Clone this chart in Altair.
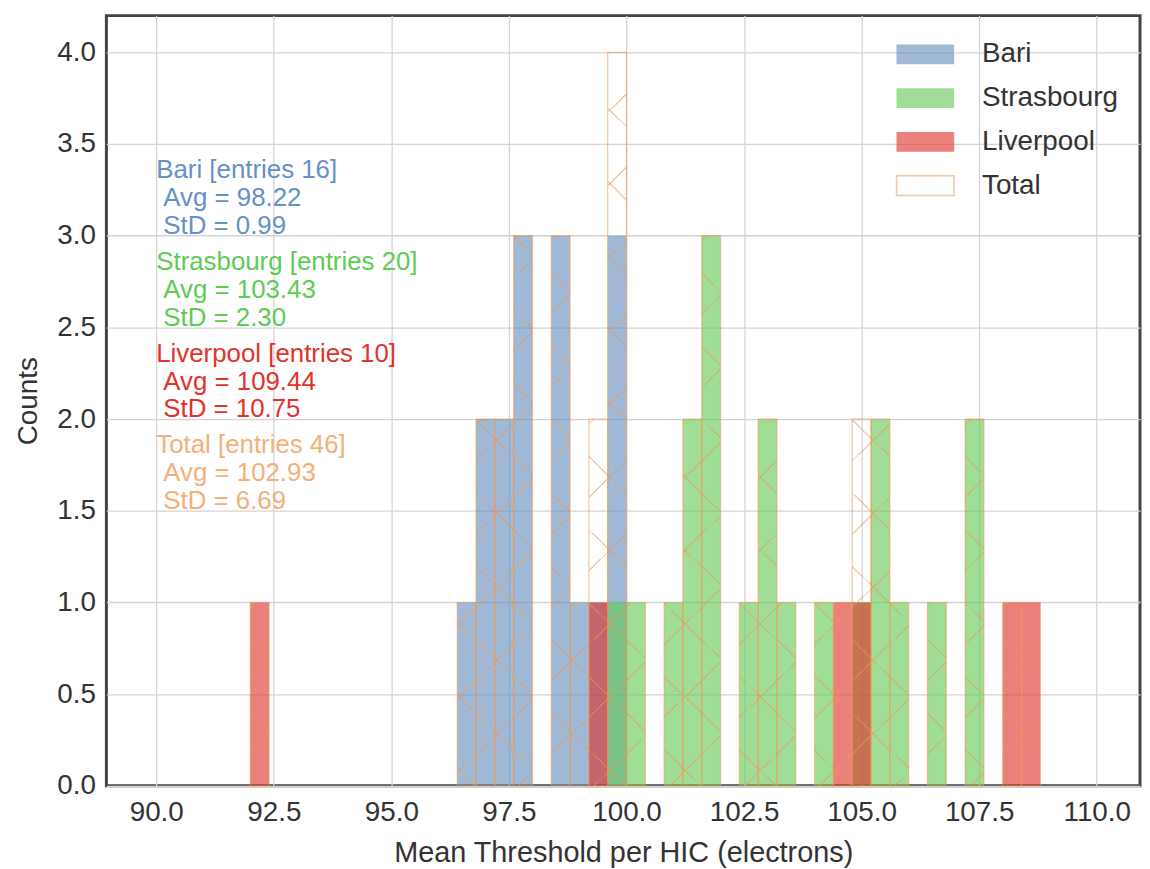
import math
import altair as alt
import pandas as pd

# ---------------- data ----------------
BIN_WIDTH = 0.4
SERIES = ["Bari", "Strasbourg", "Liverpool"]
ALL_NAMES = ["Bari", "Strasbourg", "Liverpool", "Total"]

BARI_BINS = [96.4, 96.8, 97.2, 97.6, 98.4, 98.8, 99.2, 99.6]
BARI_COUNTS = [1, 2, 2, 3, 3, 1, 1, 3]
STRAS_BINS = [99.6, 100.0, 100.8, 101.2, 101.6, 102.4, 102.8, 103.2,
              104.0, 104.8, 105.2, 105.6, 106.4, 107.2]
STRAS_COUNTS = [1, 1, 1, 2, 3, 1, 2, 1, 1, 1, 2, 1, 1, 2]
LIV_BINS = [92.0, 99.2, 104.4, 104.8, 108.0, 108.4]
LIV_COUNTS = [1, 1, 1, 1, 1, 1]

ENTRIES = [16, 20, 10, 46]
AVERAGES = [98.22, 103.43, 109.44, 102.93]
STDEVS = [0.99, 2.30, 10.75, 6.69]

X_TICKS = [90.0, 92.5, 95.0, 97.5, 100.0, 102.5, 105.0, 107.5, 110.0]
Y_TICKS = [0.0, 0.5, 1.0, 1.5, 2.0, 2.5, 3.0, 3.5, 4.0]

# ---------------- styling ----------------
FONT = "Liberation Sans"
FILL_RANGE = ["rgba(97,138,188,0.6)", "rgba(97,200,83,0.6)",
              "rgba(223,43,38,0.6)", "rgba(255,255,255,0)"]
STROKE_RANGE = ["rgba(0,0,0,0)", "rgba(0,0,0,0)", "rgba(0,0,0,0)",
                "rgba(240,150,80,0.55)"]
TEXT_COLORS = ["#6690c6", "#5ecb55", "#e2322c", "#f2b07a"]
HATCH = "rgba(236,150,80,0.5)"
CLEAR = "rgba(255,255,255,0)"

X_DOMAIN = [88.94, 110.92]
Y_DOMAIN = [0.0, 4.2]
PLOT_W, PLOT_H = 1040, 775

# ---------------- tables ----------------
rows = []
for name, bins, counts in zip(SERIES, [BARI_BINS, STRAS_BINS, LIV_BINS],
                              [BARI_COUNTS, STRAS_COUNTS, LIV_COUNTS]):
    for lo, n in zip(bins, counts):
        rows.append(dict(series=name, lo=lo, hi=round(lo + BIN_WIDTH, 3), n=n, zero=0))
bars = pd.DataFrame(rows)

tot = bars.groupby("lo", as_index=False)["n"].sum()
tot["hi"] = (tot["lo"] + BIN_WIDTH).round(3)
tot["zero"] = 0
tot["series"] = "Total"


def px(v):
    return (v - X_DOMAIN[0]) / (X_DOMAIN[1] - X_DOMAIN[0]) * PLOT_W


def py(c):
    return PLOT_H - c / Y_DOMAIN[1] * PLOT_H


CELL_W = px(92.0 + BIN_WIDTH) - px(92.0)
CELL_H = py(0) - py(1)
PERIOD = 0.4            # hatch period in units of one count (vertical)
N_H = 4                 # hatch repeats every N_H bins horizontally
SLOPE = PERIOD * CELL_H / (N_H * CELL_W)
A = SLOPE * CELL_W / CELL_H
LINE_W = 1.3
ANCHOR = (393.0, 648.7)  # a crossing point of the hatch (plot px)

cells = []
for _, r in tot.iterrows():
    for j in range(int(r["n"])):
        d = dict(lo=r["lo"], hi=r["hi"], y0=j, y1=j + 1)
        for s, key in ((1, "pa"), (-1, "pb")):
            m = s * SLOPE
            C = ANCHOR[1] - m * ANCHOR[0]
            ph = ((C - py(j + 1) + m * px(r["lo"])) / CELL_H) % PERIOD
            ph = round(ph, 4)
            if abs(ph - PERIOD) < 1e-3:
                ph = 0.0
            d[key] = ph
        cells.append(d)
cells = pd.DataFrame(cells)


def hatch_fill(a, phase, hw):
    fmin = -max(a, 0.0)
    R = 1.0 + abs(a)
    p1 = (1.0, 0.0) if a > 0 else (0.0, 0.0)
    lam = R / (1.0 + a * a)
    p2 = (p1[0] - lam * a, p1[1] + lam)
    stops = [alt.GradientStop(color=CLEAR, offset=0)]
    i = math.floor((fmin - hw - phase) / PERIOD) - 1
    last = 0.0
    while True:
        c = phase + i * PERIOD
        i += 1
        if c - hw > fmin + R:
            break
        lo = (c - hw - fmin) / R
        hi = (c + hw - fmin) / R
        if hi <= 0:
            continue
        lo = max(lo, 0.0, last)
        hi = min(hi, 1.0)
        if hi <= lo:
            continue
        for off, col in ((lo, CLEAR), (lo, HATCH), (hi, HATCH), (hi, CLEAR)):
            stops.append(alt.GradientStop(color=col, offset=round(off, 5)))
        last = hi
    stops.append(alt.GradientStop(color=CLEAR, offset=1))
    return alt.LinearGradient(gradient="linear", stops=stops,
                              x1=round(p1[0], 5), y1=round(p1[1], 5),
                              x2=round(p2[0], 5), y2=round(p2[1], 5))


# ---------------- encodings ----------------
xs = alt.Scale(domain=X_DOMAIN, nice=False, zero=False)
ys = alt.Scale(domain=Y_DOMAIN, nice=False, zero=False)
xaxis = alt.Axis(values=X_TICKS, format=".1f", title="Mean Threshold per HIC (electrons)",
                 grid=True, ticks=False, domain=False, labelFlush=False, labelOverlap=False)
yaxis = alt.Axis(values=Y_TICKS, format=".1f", title="Counts",
                 grid=True, ticks=False, domain=False, labelOverlap=False)


def X(f):
    return alt.X(f, type="quantitative", scale=xs, axis=xaxis)


def Y(f):
    return alt.Y(f, type="quantitative", scale=ys, axis=yaxis)


legend = alt.Legend(orient="none", legendX=810, legendY=25, title=None,
                    symbolType="M-2.9,-1H2.9V1H-2.9Z", symbolSize=400,
                    symbolStrokeWidth=1.5, labelFontSize=28, labelFont=FONT,
                    labelColor="#333333", labelOffset=43, rowPadding=16, padding=0)

series_layer = alt.Chart(bars).mark_rect(strokeWidth=0).encode(
    x=X("lo"), x2="hi", y=Y("n"), y2="zero",
    fill=alt.Fill("series:N", scale=alt.Scale(domain=ALL_NAMES, range=FILL_RANGE), legend=legend),
)

hatch_layers = []
hw = 0.5 * LINE_W * math.sqrt(1 + SLOPE ** 2) / CELL_H
for key, a in (("pa", A), ("pb", -A)):
    for ph in sorted(cells[key].unique()):
        hatch_layers.append(
            alt.Chart(cells).transform_filter(
                (alt.datum[key] > ph - 1e-5) & (alt.datum[key] < ph + 1e-5)
            ).mark_rect(fill=hatch_fill(a, float(ph), hw), strokeWidth=0).encode(
                x=X("lo"), x2="hi", y=Y("y1"), y2="y0"
            )
        )

total_layer = alt.Chart(tot).mark_rect(fill="transparent", strokeWidth=1.2).encode(
    x=X("lo"), x2="hi", y=Y("n"), y2="zero",
    stroke=alt.Stroke("series:N", scale=alt.Scale(domain=ALL_NAMES, range=STROKE_RANGE), legend=legend),
)

# annotation text (positions set here, values come from the arrays above)
LINE_STEP = 28.0 / CELL_H
ann = []
for b, name in enumerate(ALL_NAMES):
    top = 3.313 - 0.5 * b
    ann.append(dict(series=name, tx=90.0, ty=top, label=f"{name} [entries {ENTRIES[b]}]"))
    ann.append(dict(series=name, tx=90.15, ty=top - LINE_STEP, label=f"Avg = {AVERAGES[b]:.2f}"))
    ann.append(dict(series=name, tx=90.15, ty=top - 2 * LINE_STEP, label=f"StD = {STDEVS[b]:.2f}"))
ann = pd.DataFrame(ann)

text_layer = alt.Chart(ann).mark_text(align="left", baseline="alphabetic", font=FONT, fontSize=26).encode(
    x=X("tx"), y=Y("ty"), text="label:N",
    color=alt.Color("series:N", scale=alt.Scale(domain=ALL_NAMES, range=TEXT_COLORS), legend=None),
)

chart = alt.layer(series_layer, *hatch_layers, total_layer, text_layer).properties(
    width=PLOT_W, height=PLOT_H,
    padding={"left": 99, "top": 5, "right": 2, "bottom": 84},
    autosize=alt.AutoSizeParams(type="none"),
).configure_view(
    stroke="#444444", strokeWidth=3
).configure_axis(
    labelFont=FONT, labelFontSize=28, labelColor="#333333",
    titleFont=FONT, titleFontSize=28, titleColor="#333333", titleFontWeight="normal",
    gridColor="#d4d4d4", gridWidth=1.3,
).configure_axisX(labelPadding=13, titlePadding=12, titleFontSize=29).configure_axisY(labelPadding=11, titlePadding=14)

chart.save("out.html", embed_options={"renderer": "svg", "actions": False})
